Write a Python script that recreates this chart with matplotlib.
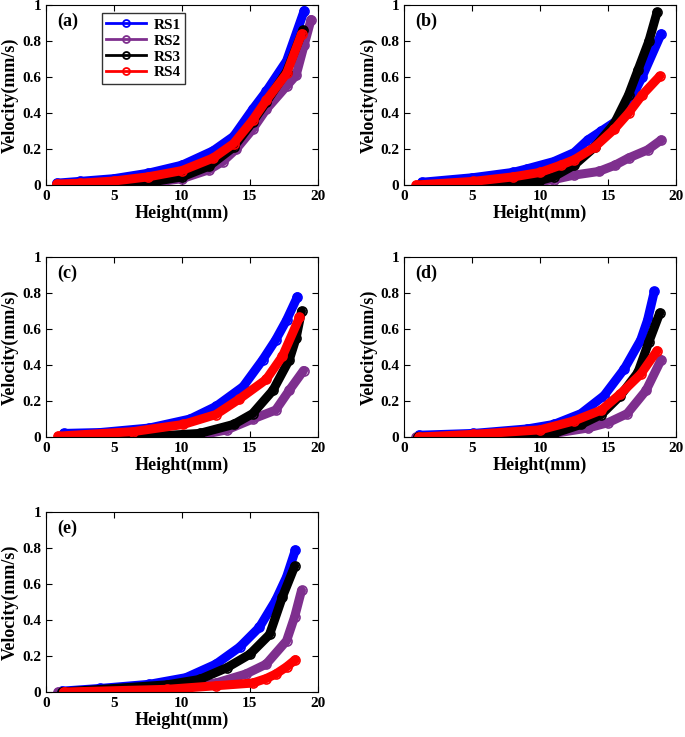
"""
velocity vs height for four runs (RS1-RS4), five cases (a)-(e)
"""

import numpy as np
import matplotlib.pyplot as plt
from matplotlib.lines import Line2D

plt.rcParams['font.family'] = ['Liberation Serif', 'DejaVu Serif']
plt.rcParams['font.weight'] = 'bold'

series = ['RS1', 'RS2', 'RS3', 'RS4']
colors = ['#0000FF', '#7E2F8E', '#000000', '#FF0000']
panels = ['(a)', '(b)', '(c)', '(d)', '(e)']

# (height mm, velocity mm/s), per panel, per series
# panel (a)
a_x = [[0.8, 2.5, 5, 7.5, 10, 12.3, 13.8, 15.2, 16.2, 17.7, 19.0],
       [0.8, 5, 8, 10, 12, 13, 14, 15.2, 16.2, 17.7, 18.4, 19.0, 19.5],
       [0.8, 5, 8, 10, 12, 13.8, 15.2, 16.2, 17.7, 18.9],
       [0.8, 2.5, 5, 7.5, 10, 12.3, 13.8, 15.2, 16.2, 17.7, 18.8]]
a_y = [[0.01, 0.02, 0.035, 0.065, 0.11, 0.19, 0.27, 0.42, 0.52, 0.69, 0.97],
       [0.0, 0.005, 0.015, 0.035, 0.085, 0.13, 0.2, 0.31, 0.42, 0.55, 0.61, 0.78, 0.92],
       [0.0, 0.005, 0.02, 0.045, 0.105, 0.21, 0.35, 0.46, 0.63, 0.86],
       [0.005, 0.01, 0.022, 0.045, 0.08, 0.15, 0.23, 0.36, 0.47, 0.62, 0.84]]
# panel (b)
b_x = [[1.3, 5, 8, 9.05, 11, 12.5, 13.5, 14.5, 15.5, 16.5, 17.5, 18.9],
       [1.2, 7, 9, 11, 12.5, 14.3, 15.5, 16.5, 17.9, 18.9],
       [1.2, 5, 8, 9.05, 10, 11, 12.5, 14, 15.45, 16.5, 17.2, 18.0, 18.6],
       [0.9, 5.1, 8, 10, 11.5, 12.5, 14, 15.45, 16.5, 17.5, 18.8]]
b_y = [[0.015, 0.04, 0.07, 0.09, 0.13, 0.18, 0.25, 0.3, 0.35, 0.45, 0.6, 0.84],
       [0.0, 0.005, 0.01, 0.03, 0.055, 0.075, 0.11, 0.15, 0.195, 0.25],
       [0.0, 0.003, 0.006, 0.012, 0.025, 0.046, 0.11, 0.21, 0.34, 0.5, 0.64, 0.8, 0.96],
       [0.0, 0.02, 0.045, 0.07, 0.11, 0.14, 0.21, 0.31, 0.4, 0.5, 0.605]]
# panel (c)
c_x = [[1.3, 4.0, 7.6, 10.6, 12.5, 14.5, 15.95, 16.9, 17.7, 18.5],
       [1.5, 9, 11.3, 13.3, 15.2, 16.9, 17.9, 18.95],
       [1.0, 8, 11.3, 13.8, 15.2, 16.7, 17.9, 18.4, 18.8],
       [0.9, 6.4, 10.1, 12.5, 14.2, 16.2, 17.4, 18.65]]
c_y = [[0.02, 0.025, 0.05, 0.10, 0.17, 0.28, 0.43, 0.54, 0.65, 0.78],
       [0.0, 0.003, 0.01, 0.04, 0.10, 0.15, 0.26, 0.37],
       [0.0, 0.005, 0.02, 0.07, 0.13, 0.26, 0.43, 0.55, 0.70],
       [0.005, 0.03, 0.07, 0.125, 0.21, 0.32, 0.45, 0.665]]
# panel (d)
d_x = [[1.1, 5.1, 9.05, 11.0, 13.0, 14.7, 16.2, 17.4, 17.9, 18.4],
       [0.9, 8, 11.0, 13.5, 15.0, 16.4, 17.8, 18.9],
       [1.0, 8, 11.0, 13.0, 14.5, 15.9, 17.2, 18.0, 18.8],
       [1.1, 5.1, 10.0, 12.5, 14.5, 15.9, 17.4, 18.6]]
d_y = [[0.01, 0.02, 0.045, 0.07, 0.13, 0.23, 0.38, 0.54, 0.65, 0.81],
       [0.0, 0.005, 0.02, 0.05, 0.08, 0.13, 0.26, 0.43],
       [0.0, 0.005, 0.02, 0.07, 0.125, 0.23, 0.36, 0.53, 0.69],
       [0.0, 0.015, 0.04, 0.09, 0.15, 0.24, 0.35, 0.48]]
# panel (e)
e_x = [[1.2, 4.0, 7.6, 10.3, 12.5, 14.25, 15.7, 16.9, 17.7, 18.35],
       [0.9, 8.9, 12.5, 14.7, 16.2, 17.7, 18.3, 18.8],
       [1.2, 8.9, 11.3, 13.3, 15.0, 16.45, 17.4, 18.3],
       [1.3, 8.9, 12.5, 15.2, 16.2, 16.9, 17.7, 18.35]]
e_y = [[0.005, 0.02, 0.043, 0.08, 0.155, 0.25, 0.36, 0.51, 0.64, 0.79],
       [0.0, 0.02, 0.05, 0.10, 0.155, 0.285, 0.42, 0.565],
       [0.0, 0.04, 0.07, 0.135, 0.21, 0.32, 0.53, 0.70],
       [0.0, 0.015, 0.035, 0.05, 0.075, 0.10, 0.14, 0.18]]

data = [(a_x, a_y), (b_x, b_y), (c_x, c_y), (d_x, d_y), (e_x, e_y)]

fig = plt.figure(figsize=(6.85, 7.37), dpi=100)
lefts = [0.067, 0.590]
bottoms = [0.749, 0.407, 0.061]
w, h = 0.397, 0.244

for k, (xs, ys) in enumerate(data):
    ax = fig.add_axes([lefts[k % 2], bottoms[k // 2], w, h])
    for i in range(len(series)):
        ax.plot(xs[i], ys[i], color=colors[i], lw=6.5, marker='o', ms=6.5,
                mfc='none', mew=1.2, solid_capstyle='round',
                solid_joinstyle='round')
    ax.set_xlim(0, 20)
    ax.set_ylim(0, 1)
    ax.set_xticks([0, 5, 10, 15, 20])
    ax.set_yticks([0, 0.2, 0.4, 0.6, 0.8, 1])
    ax.set_yticklabels(['0', '0.2', '0.4', '0.6', '0.8', '1'])
    ax.tick_params(direction='in', top=True, right=True, labelsize=11,
                   length=4, width=0.8)
    for s in ax.spines.values():
        s.set_linewidth(0.8)
    ax.set_xlabel('Height(mm)', fontsize=13, fontweight='bold', labelpad=1)
    ax.set_ylabel('Velocity(mm/s)', fontsize=13, fontweight='bold', labelpad=2)
    ax.text(0.04, 0.96, panels[k], transform=ax.transAxes, fontsize=13,
            fontweight='bold', va='top', ha='left')
    if k == 0:
        handles = [Line2D([], [], color=colors[i], lw=2, marker='o', ms=5,
                          mfc='none', mew=1.3) for i in range(len(series))]
        ax.legend(handles, series, loc='upper left', bbox_to_anchor=(0.205, 0.955),
                  borderaxespad=0, fancybox=False, edgecolor='#333333',
                  framealpha=1, fontsize=11, handlelength=2.6,
                  handletextpad=0.5, labelspacing=0.15, borderpad=0.3)

fig.savefig('out.png', dpi=100)
